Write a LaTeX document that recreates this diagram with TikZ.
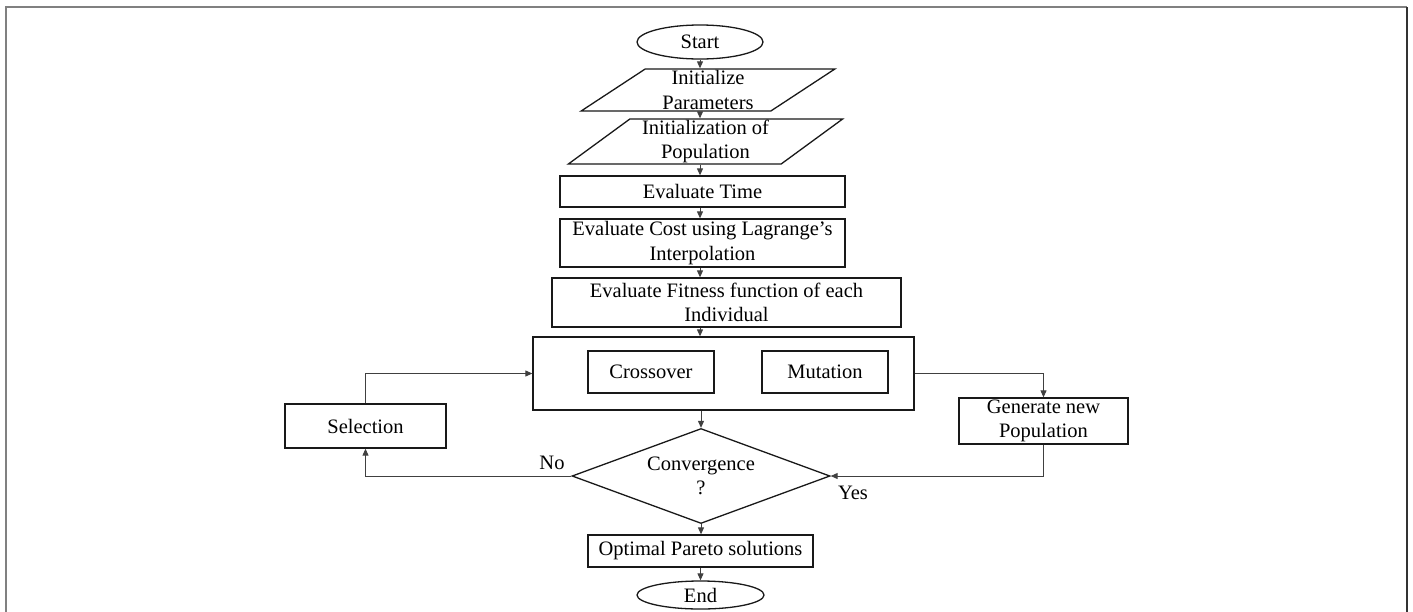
\documentclass[tikz,border=0pt]{standalone}
\usepackage{fontspec}
\setmainfont{Liberation Serif}
\usetikzlibrary{shapes.geometric,arrows.meta}

\tikzset{
  every node/.style={font=\fontsize{20.5}{24.5}\selectfont, align=center, text=black},
  shape line/.style={draw=black!90, line width=1.3pt},
  procbox/.style={shape line, rectangle, inner sep=0pt},
  termin/.style={shape line, ellipse, inner sep=0pt},
  iobox/.style={shape line, trapezium, trapezium stretches=true,
    trapezium left angle=40, trapezium right angle=140, inner sep=0pt},
  decision/.style={shape line, diamond, inner sep=0pt, aspect=2.72},
  flow/.style={draw=black!75, line width=1pt, -{Triangle[length=7pt,width=6pt]}},
  tag/.style={inner sep=0pt},
  frameline/.style={line width=2pt}
}

\begin{document}
\begin{tikzpicture}[x=1pt, y=-1pt]
\useasboundingbox (0,0) rectangle (1413,611);

% outer frame
\draw[frameline, draw=black!50] (6,640) -- (6,7) -- (1407,7);
\draw[frameline, draw=black!80] (1407,7) -- (1407,640);

% main column
\node[termin, minimum width=126pt, minimum height=34pt] (start) at (700,42) {Start};
\node[iobox, minimum width=254pt, minimum height=42pt] (init) at (708,90) {Initialize\\Parameters};
\node[iobox, minimum width=275pt, minimum height=45pt] (pop) at (705.5,141.5) {Initialization of\\Population};
\node[procbox, minimum width=285pt, minimum height=31pt] (time) at (702.5,191.5) {Evaluate Time};
\node[procbox, minimum width=285pt, minimum height=48pt] (cost) at (702.5,243) {Evaluate Cost using Lagrange’s\\Interpolation};
\node[procbox, minimum width=349pt, minimum height=49pt] (fit) at (726.5,302.5) {Evaluate Fitness function of each\\Individual};

% genetic operators
\node[procbox, minimum width=381pt, minimum height=73pt] (ops) at (723.5,373.5) {};
\node[procbox, minimum width=126pt, minimum height=42pt] (cross) at (651,372) {Crossover};
\node[procbox, minimum width=126pt, minimum height=42pt] (mut) at (825,372) {Mutation};

\node[procbox, minimum width=161pt, minimum height=44pt] (sel) at (365.5,426) {Selection};
\node[procbox, minimum width=169pt, minimum height=46pt] (gen) at (1043.5,421) {Generate new\\Population};

\node[decision, minimum width=258pt, minimum height=95pt] (conv) at (701,476) {Convergence\\?};

\node[procbox, minimum width=225pt, minimum height=32pt] (pareto) at (700.5,551) {Optimal Pareto solutions};
\node[termin, minimum width=127pt, minimum height=28pt] (end) at (700.5,595) {End};

% branch labels
\node[tag] (no) at (552,463) {No};
\node[tag] (yes) at (853,493) {Yes};

% connectors
\draw[flow] (start.south) -- (start.south |- init.north);
\draw[flow] (init.south -| start.south) -- (pop.north -| start.south);
\draw[flow] (pop.south -| start.south) -- (time.north -| start.south);
\draw[flow] (time.south -| start.south) -- (cost.north -| start.south);
\draw[flow] (cost.south -| start.south) -- (fit.north -| start.south);
\draw[flow] (fit.south -| start.south) -- (ops.north -| start.south);
\draw[flow] (ops.south -| conv.north) -- (conv.north);
\draw[flow] (ops.east) -| (gen.north);
\draw[flow] (gen.south) |- (conv.east);
\draw[flow] (conv.west) -| (sel.south);
\draw[flow] (sel.north) |- (ops.west);
\draw[flow] (conv.south) -- (pareto.north -| conv.south);
\draw[flow] (pareto.south -| end.north) -- (end.north);

\end{tikzpicture}
\end{document}
